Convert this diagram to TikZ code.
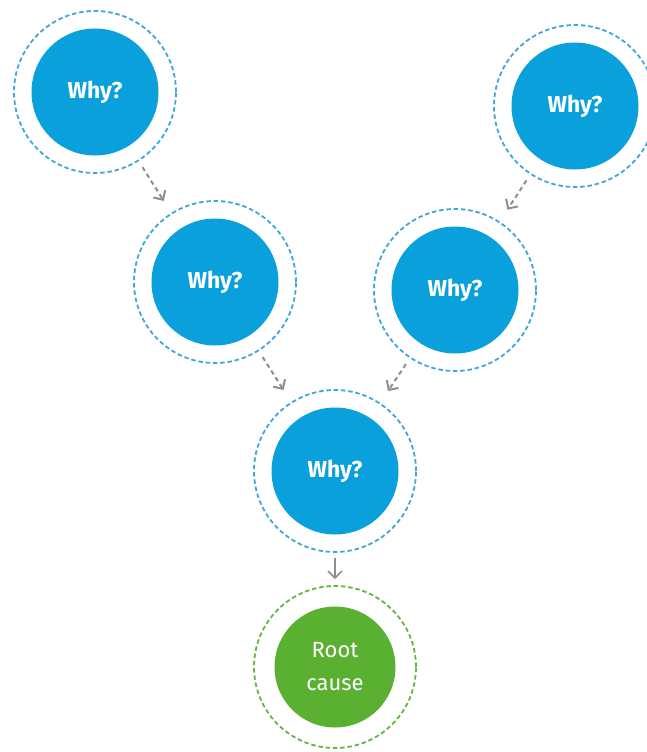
\documentclass[tikz,border=0pt]{standalone}
\usepackage{fontspec}
\setsansfont{Fira Sans}
\usetikzlibrary{positioning,arrows.meta}

\definecolor{whyblue}{HTML}{0AA0DC}
\definecolor{ringblue}{HTML}{3FA6DA}
\definecolor{rootgreen}{HTML}{5AB031}
\definecolor{ringgreen}{HTML}{66B444}
\definecolor{linkgray}{HTML}{8E8E8E}

\tikzset{
  ring/.style={circle, draw=ringblue, line width=1.8pt, dash pattern=on 4.5pt off 2.8pt,
    minimum size=162pt, inner sep=0pt},
  why/.style={circle, fill=whyblue, minimum size=127pt, inner sep=0pt, text=white,
    font=\sffamily\bfseries\fontsize{23}{26}\selectfont},
  root/.style={why, fill=rootgreen, minimum size=121pt, align=center,
    font=\sffamily\fontsize{22}{33}\selectfont},
  link/.style={draw=linkgray, line width=2pt, dash pattern=on 4.5pt off 3.5pt,
    -{Straight Barb[length=7pt,width=14pt]}, shorten <=7pt, shorten >=14pt},
}

\begin{document}
\begin{tikzpicture}[x=1pt, y=1pt, node distance=1pt and 1pt, on grid]

    \useasboundingbox (0,0) rectangle (647,-752);

    % Define nodes
    \node[why]                                  (why-a) at (95,-92) {Why?};
    \node[why]                                  (why-b) at (575,-106) {Why?};
    \node[why, below right=190pt and 120pt of why-a] (why-c) {Why?};
    \node[why, below left=184pt and 120pt of why-b]  (why-d) {Why?};
    \node[why, below right=189pt and 120pt of why-c] (why-e) {Why?};
    \node[root, below=196pt of why-e]           (root) {Root\\cause};

    % Dashed rings
    \foreach \n in {a,b,c,d,e}
      \node[ring] (ring-\n) at (why-\n) {};
    \node[ring, draw=ringgreen] (ring-root) at (root) {};

    % Connect the nodes
    \draw[link] (ring-a) -- (ring-c);
    \draw[link] (ring-b) -- (ring-d);
    \draw[link] (ring-c) -- (ring-e);
    \draw[link] (ring-d) -- (ring-e);
    \draw[link, solid, line width=1.5pt, shorten <=5pt, shorten >=6pt] (ring-e) -- (ring-root);

\end{tikzpicture}
\end{document}
